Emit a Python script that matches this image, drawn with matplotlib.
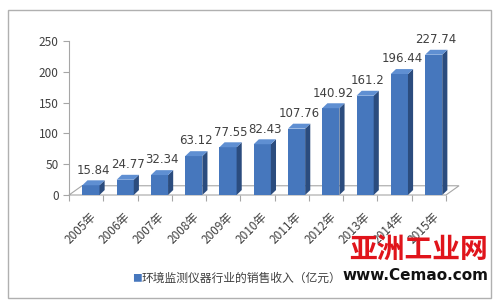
import numpy as np
import matplotlib.pyplot as plt
from matplotlib.patches import Polygon, Rectangle

plt.rcParams['font.family'] = ['Noto Sans CJK SC', 'DejaVu Sans']

years = ['2005年', '2006年', '2007年', '2008年', '2009年', '2010年',
         '2011年', '2012年', '2013年', '2014年', '2015年']
sales = [15.84, 24.77, 32.34, 63.12, 77.55, 82.43, 107.76, 140.92, 161.2, 196.44, 227.74]
labels = ['15.84', '24.77', '32.34', '63.12', '77.55', '82.43',
          '107.76', '140.92', '161.2', '196.44', '227.74']
yticks = [0, 50, 100, 150, 200, 250]
legend_text = '环境监测仪器行业的销售收入（亿元）'

front_c = '#4677bd'
side_c = '#2b4c7e'
top_c = '#5f8fd2'
txt_c = '#404040'
grid_c = '#a6a6a6'

fig = plt.figure(figsize=(5, 3.07), dpi=100)
ax = fig.add_axes([69 / 500, (307 - 195) / 307, 377 / 500, 154 / 307])
ax.set_xlim(-0.5, 10.5)
ax.set_ylim(0, 250)

# floor of the pseudo 3d chart
fdx, fdy = 0.38, 15
floor = Polygon([(-0.5, 0), (10.5, 0), (10.5 + fdx, fdy), (-0.5 + fdx, fdy)],
                closed=True, facecolor='none', edgecolor=grid_c, lw=0.8, clip_on=False)
ax.add_patch(floor)

# bars with side and top faces
w, dx, dy = 0.5, 0.15, 8
x = np.arange(len(years))
for i, v in enumerate(sales):
    x0 = x[i] - 0.11
    ax.add_patch(Rectangle((x0, 0), w, v, facecolor=front_c, edgecolor='none', zorder=3))
    ax.add_patch(Polygon([(x0 + w, 0), (x0 + w + dx, dy), (x0 + w + dx, v + dy), (x0 + w, v)],
                         closed=True, facecolor=side_c, edgecolor='none', zorder=3, clip_on=False))
    ax.add_patch(Polygon([(x0, v), (x0 + w, v), (x0 + w + dx, v + dy), (x0 + dx, v + dy)],
                         closed=True, facecolor=top_c, edgecolor='none', zorder=3, clip_on=False))
    ax.text(x0 + (w + dx) / 2, v + dy + 6, labels[i], ha='center', va='bottom',
            fontsize=8.5, color=txt_c, family='DejaVu Sans', zorder=4)

for s in ['top', 'right', 'bottom']:
    ax.spines[s].set_visible(False)
ax.spines['left'].set_color(grid_c)
ax.set_yticks(yticks)
ax.tick_params(axis='y', colors=grid_c, labelcolor=txt_c, labelsize=8.5, length=4, width=0.8)
ax.set_xticks(np.arange(-0.5, 11, 1))
ax.set_xticklabels([])
ax.tick_params(axis='x', colors=grid_c, length=4, width=0.8)

for i, yr in enumerate(years):
    ax.text(x[i] + 0.1, -24, yr, rotation=45, ha='right', va='top',
            rotation_mode='anchor', fontsize=8.5, color=txt_c)

# legend
fig.text(132 / 500, 1 - 278 / 307, '■', color=front_c, fontsize=7, va='center', ha='left')
fig.text(142 / 500, 1 - 278 / 307, legend_text, color=txt_c, fontsize=8.5, va='center', ha='left')

# outer frame
fig.add_artist(Rectangle((8 / 500, 9 / 307), 483 / 500, 288 / 307, transform=fig.transFigure,
                         facecolor='none', edgecolor='#b0b0b0', lw=1))

# watermark
fig.text(488 / 500, 1 - 250 / 307, '亚洲工业网', color='#e0141b', fontsize=20,
         fontweight='bold', ha='right', va='center')
fig.text(488 / 500, 1 - 276 / 307, 'www.Cemao.com', color='#111111', fontsize=11,
         fontweight='bold', ha='right', va='center', family='DejaVu Sans')

fig.savefig('out.png', dpi=100)
